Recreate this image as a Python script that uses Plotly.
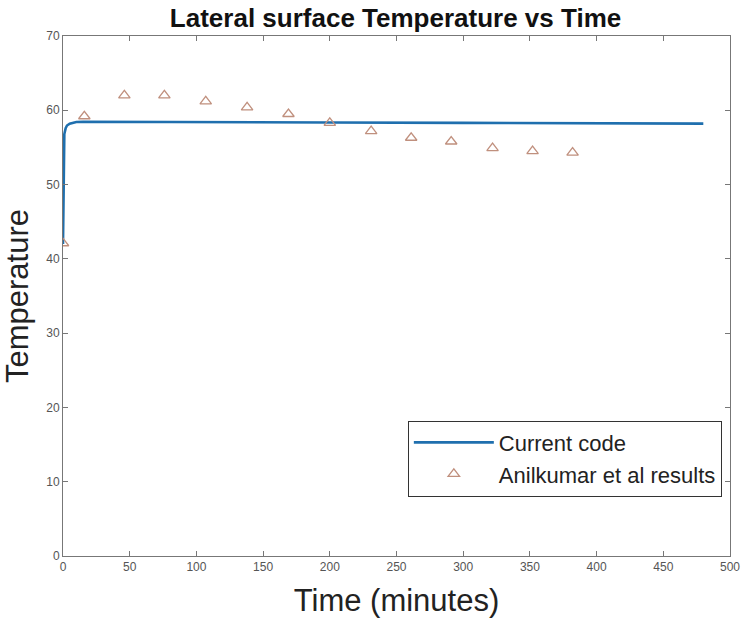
import plotly.graph_objects as go

# Current code (simulated curve)
time_code = [0, 0.3, 0.6, 1, 2, 3, 5, 8, 10, 15, 20, 50, 100, 200, 300, 400, 480]
temp_code = [42.0, 52.0, 55.5, 56.8, 57.6, 57.95, 58.2, 58.38, 58.42, 58.45, 58.45, 58.45, 58.4, 58.35, 58.3, 58.25, 58.2]

# Anilkumar et al results
time_ref = [0, 16, 46, 76, 107, 138, 169, 200, 231, 261, 291, 322, 352, 382]
temp_ref = [42.1, 59.2, 62.0, 62.0, 61.2, 60.4, 59.5, 58.3, 57.2, 56.3, 55.8, 54.9, 54.5, 54.3]

x_ticks = [0, 50, 100, 150, 200, 250, 300, 350, 400, 450, 500]
y_ticks = [0, 10, 20, 30, 40, 50, 60, 70]

FONT = "Arial, Liberation Sans, sans-serif"

fig = go.Figure()
fig.add_trace(go.Scatter(
    x=time_code, y=temp_code, mode="lines", name="Current code",
    line=dict(color="#1f6fae", width=2.6),
))
fig.add_trace(go.Scatter(
    x=time_ref, y=temp_ref, mode="markers", name="Anilkumar et al results",
    marker=dict(symbol="triangle-up-open", size=10, color="#c0907e",
                line=dict(width=1.3, color="#c0907e")),
))

axis_common = dict(
    showgrid=False, zeroline=False, showline=True, linecolor="#777777", linewidth=1,
    mirror="ticks", ticks="inside", ticklen=5, tickcolor="#777777",
    tickfont=dict(family=FONT, size=12, color="#555555"),
)

fig.update_layout(
    width=752, height=623,
    margin=dict(l=63, r=13, t=36, b=66),
    paper_bgcolor="white", plot_bgcolor="white",
    title=dict(text="<b>Lateral surface Temperature vs Time</b>",
               font=dict(family=FONT, size=26, color="#111111"),
               x=0.526, xanchor="center", y=0.972, yanchor="middle"),
    xaxis=dict(range=[0, 500], tickvals=x_ticks,
               title=dict(text="Time (minutes)", font=dict(family=FONT, size=31, color="#222222"), standoff=15),
               **axis_common),
    yaxis=dict(range=[0, 70], tickvals=y_ticks,
               title=dict(text="Temperature", font=dict(family=FONT, size=31, color="#222222"), standoff=11),
               **axis_common),
    legend=dict(x=0.517, y=0.2605, xanchor="left", yanchor="top",
                bordercolor="#333333", borderwidth=1, bgcolor="white",
                font=dict(family=FONT, size=22, color="#222222"),
                itemwidth=80, tracegroupgap=0),
    showlegend=True,
)

fig.write_html("out.html")
